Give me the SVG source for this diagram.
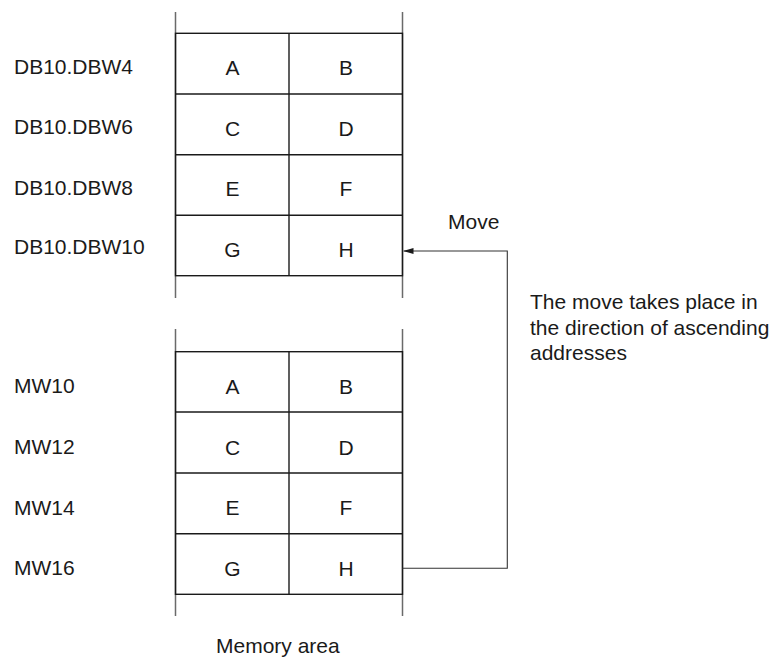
<svg xmlns="http://www.w3.org/2000/svg" width="779" height="657" viewBox="0 0 779 657">
<style>
text{font-family:"Liberation Sans",Arial,sans-serif;font-size:21px;fill:#1a1a1a}
.c{text-anchor:middle}
.grid{stroke:#1a1a1a;stroke-width:1.4;fill:none}
.ext{stroke:#6a6a6a;stroke-width:1.5;fill:none}
.conn{stroke:#333;stroke-width:1.1;fill:none}
</style>
<defs>
<marker id="arr" viewBox="0 0 10 6" refX="10" refY="3" markerWidth="10" markerHeight="6" markerUnits="userSpaceOnUse" orient="auto">
<path d="M0,0 L10,3 L0,6 Z" fill="#1a1a1a"/>
</marker>
</defs>
<rect width="779" height="657" fill="#fff"/>
<g id="db-table">
<line class="ext" x1="175.5" y1="12" x2="175.5" y2="298"/>
<line class="ext" x1="402.5" y1="12" x2="402.5" y2="298"/>
<rect class="grid" x="175.5" y="33.3" width="227" height="242.4"/>
<line class="grid" x1="289" y1="33.3" x2="289" y2="275.7"/>
<line class="grid" x1="175.5" y1="94" x2="402.5" y2="94"/>
<line class="grid" x1="175.5" y1="154.7" x2="402.5" y2="154.7"/>
<line class="grid" x1="175.5" y1="215.3" x2="402.5" y2="215.3"/>
<text class="c" x="232.5" y="75">A</text><text class="c" x="346" y="75">B</text>
<text class="c" x="232.5" y="135.7">C</text><text class="c" x="346" y="135.7">D</text>
<text class="c" x="232.5" y="196.3">E</text><text class="c" x="346" y="196.3">F</text>
<text class="c" x="232.5" y="257">G</text><text class="c" x="346" y="257">H</text>
</g>
<g id="db-labels">
<text x="14" y="73.5">DB10.DBW4</text>
<text x="14" y="134">DB10.DBW6</text>
<text x="14" y="194.5">DB10.DBW8</text>
<text x="14" y="254">DB10.DBW10</text>
</g>
<g id="mw-table">
<line class="ext" x1="175.5" y1="329" x2="175.5" y2="616"/>
<line class="ext" x1="402.5" y1="329" x2="402.5" y2="616"/>
<rect class="grid" x="175.5" y="351.7" width="227" height="242.6"/>
<line class="grid" x1="289" y1="351.7" x2="289" y2="594.3"/>
<line class="grid" x1="175.5" y1="412" x2="402.5" y2="412"/>
<line class="grid" x1="175.5" y1="473" x2="402.5" y2="473"/>
<line class="grid" x1="175.5" y1="533.7" x2="402.5" y2="533.7"/>
<text class="c" x="232.5" y="394">A</text><text class="c" x="346" y="394">B</text>
<text class="c" x="232.5" y="454.7">C</text><text class="c" x="346" y="454.7">D</text>
<text class="c" x="232.5" y="515.3">E</text><text class="c" x="346" y="515.3">F</text>
<text class="c" x="232.5" y="576">G</text><text class="c" x="346" y="576">H</text>
</g>
<g id="mw-labels">
<text x="14" y="393.3">MW10</text>
<text x="14" y="454">MW12</text>
<text x="14" y="514.7">MW14</text>
<text x="14" y="575.3">MW16</text>
</g>
<g id="connectors">
<polyline class="conn" points="402.5,568.3 507.3,568.3 507.3,251 403.5,251" marker-end="url(#arr)"/>
</g>
<g id="labels">
<text x="448" y="229.3">Move</text>
<text x="530" y="309.3">The move takes place in</text>
<text x="530" y="334.8">the direction of ascending</text>
<text x="530" y="360.3">addresses</text>
<text x="216" y="653.3">Memory area</text>
</g>
</svg>
